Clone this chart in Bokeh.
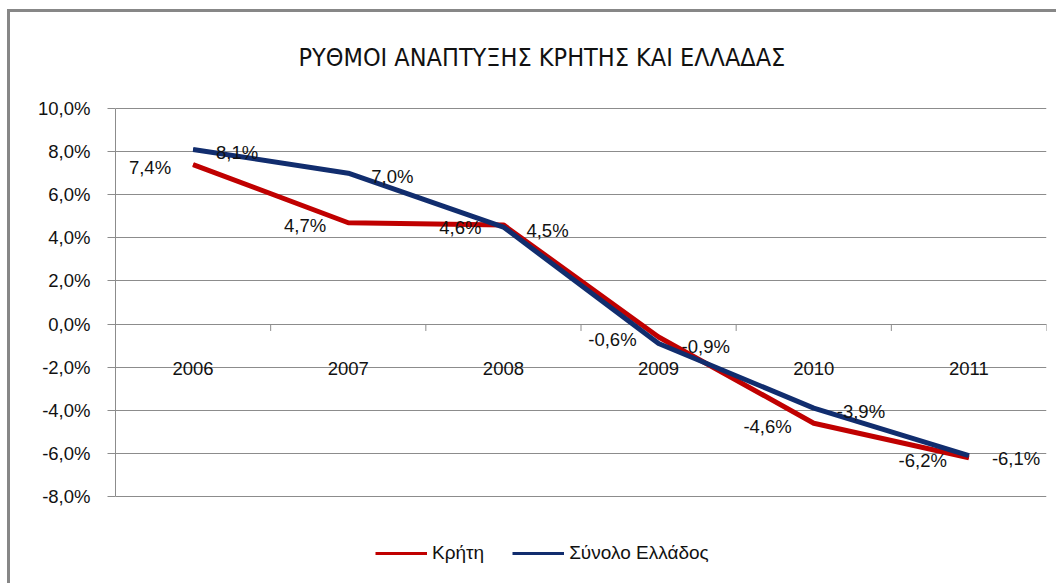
from bokeh.plotting import figure
from bokeh.models import (FactorRange, Range1d, FixedTicker, Title, Legend, LegendItem,
                          ColumnDataSource)
from bokeh.transform import dodge
from bokeh.core.properties import value
from bokeh.embed import file_html
from bokeh.resources import INLINE

# ---- data ----
years = ["2006", "2007", "2008", "2009", "2010", "2011"]
kriti = [7.4, 4.7, 4.6, -0.6, -4.6, -6.2]
ellada = [8.1, 7.0, 4.5, -0.9, -3.9, -6.1]
y_ticks = [-8, -6, -4, -2, 0, 2, 4, 6, 8, 10]
y_tick_labels = ["-8,0%", "-6,0%", "-4,0%", "-2,0%", "0,0%", "2,0%", "4,0%", "6,0%", "8,0%", "10,0%"]
title_text = "ΡΥΘΜΟΙ ΑΝΑΠΤΥΞΗΣ ΚΡΗΤΗΣ ΚΑΙ ΕΛΛΑΔΑΣ"
series_names = ["Κρήτη", "Σύνολο Ελλάδος"]

RED = "#C00000"
BLUE = "#112D6E"
GRID = "#8C8C8C"
FONT = "Liberation Sans"
TFONT = "DejaVu Sans Condensed"
FS = "18.5px"

def fmt(v):
    return ("%.1f" % v).replace(".", ",") + "%"

src = ColumnDataSource(dict(
    year=years, kriti=kriti, ellada=ellada,
    kriti_lbl=[fmt(v) for v in kriti], ellada_lbl=[fmt(v) for v in ellada],
    zero=[0] * len(years), tick_end=[-0.32] * len(years),
))

# layout geometry (pixels)
W, H = 1049, 574
TOP, LEFT, RIGHT, BOTTOM = 88, 105, 13, 10
AXIS_PX = 388          # height of the -8..10 value band
legend_room = 80       # extra frame space below -8 for the legend
top_room = 8           # extra frame space above 10
y_lo, y_hi = y_ticks[0], y_ticks[-1]
per_px = (y_hi - y_lo) / AXIS_PX
y_start = y_lo - legend_room * per_px
y_end = y_hi + top_room * per_px

p = figure(width=W, height=H, output_backend="svg", toolbar_location=None,
           x_range=FactorRange(factors=years, range_padding=0),
           y_range=Range1d(y_start, y_end), x_axis_location=None,
           min_border_left=LEFT, min_border_right=RIGHT, min_border_top=TOP,
           min_border_bottom=BOTTOM,
           styles={"margin-left": "7px", "margin-top": "9px",
                   "border-top": "3px solid #878787", "border-left": "3px solid #878787"})
p.outline_line_color = None
p.background_fill_color = "white"
p.border_fill_color = "white"

# y axis
ax = p.yaxis[0]
ax.bounds = (y_lo, y_hi)
ax.ticker = FixedTicker(ticks=y_ticks)
ax.major_label_overrides = {t: l for t, l in zip(y_ticks, y_tick_labels)}
ax.major_tick_out = 8
ax.major_tick_in = 0
ax.minor_tick_out = 0
ax.minor_tick_in = 0
ax.axis_line_color = GRID
ax.major_tick_line_color = GRID
ax.major_label_standoff = 17
ax.major_label_text_font = FONT
ax.major_label_text_font_size = FS
ax.major_label_text_color = "#111111"

p.xgrid.grid_line_color = None
p.ygrid.ticker = FixedTicker(ticks=y_ticks)
p.ygrid.grid_line_color = GRID
p.ygrid.grid_line_width = 1

# category tick marks on the zero line
p.segment(x0=dodge("year", 0.5, range=p.x_range), y0="zero",
          x1=dodge("year", 0.5, range=p.x_range), y1="tick_end",
          source=src, line_color=GRID, line_width=1)

# category labels under the zero line
p.text(x="year", y="zero", text="year", source=src, y_offset=44,
       text_align="center", text_baseline="middle",
       text_font=value(FONT), text_font_size=FS, text_color="#111111")

# thin copies of the lines (hidden underneath) used as legend glyphs
r1 = p.line(x="year", y="kriti", source=src, line_color=RED, line_width=3)
r2 = p.line(x="year", y="ellada", source=src, line_color=BLUE, line_width=3)

# lines
p.line(x="year", y="kriti", source=src, line_color=RED, line_width=5, line_join="round")
p.line(x="year", y="ellada", source=src, line_color=BLUE, line_width=5, line_join="round")

# data labels
p.text(x="year", y="kriti", text="kriti_lbl", source=src, x_offset=-22, y_offset=3,
       text_align="right", text_baseline="middle",
       text_font=value(FONT), text_font_size=FS, text_color="#111111")
p.text(x="year", y="ellada", text="ellada_lbl", source=src, x_offset=23, y_offset=3,
       text_align="left", text_baseline="middle",
       text_font=value(FONT), text_font_size=FS, text_color="#111111")

# legend
legend = Legend(items=[LegendItem(label=series_names[0], renderers=[r1]),
                       LegendItem(label=series_names[1], renderers=[r2])],
                orientation="horizontal", location=(260, 12),
                glyph_width=52, glyph_height=20, label_standoff=5, spacing=28,
                padding=0, margin=0, border_line_color=None, background_fill_alpha=0,
                label_text_font=FONT, label_text_font_size="19px", label_text_color="#111111")
p.add_layout(legend, "center")

# title
t = Title(text=title_text, align="left", offset=183, standoff=57,
          text_font=TFONT, text_font_size="25px", text_font_style="normal",
          text_color="#111111")
p.add_layout(t, "above")

open("out.html", "w").write(file_html(p, INLINE))
